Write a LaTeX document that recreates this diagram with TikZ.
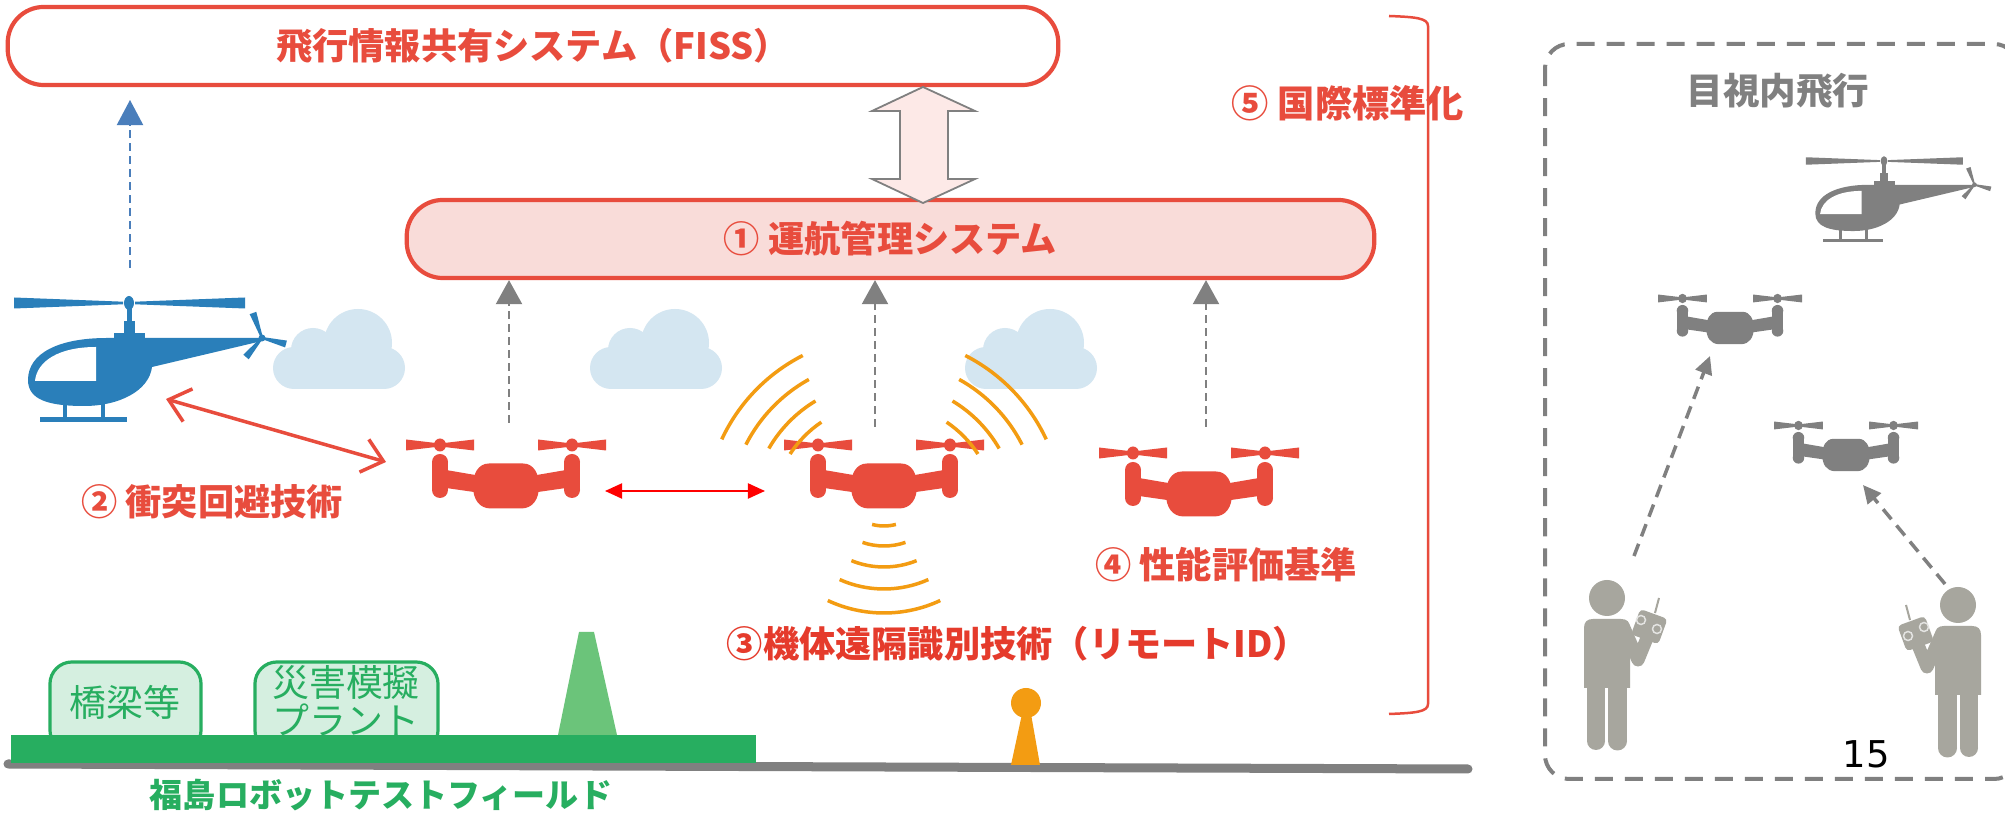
\documentclass[tikz,border=0pt]{standalone}
\usepackage{fontspec}
\newfontfamily\jp{Noto Sans CJK JP}
\newfontfamily\dv{DejaVu Sans}
\usetikzlibrary{arrows.meta,calc}
\definecolor{boxred}{HTML}{E84C3D}
\definecolor{idred}{HTML}{E53B2C}
\definecolor{pinkfill}{HTML}{F9DCD9}
\definecolor{arrowpink}{HTML}{FDE9E7}
\definecolor{heliblue}{HTML}{2A7FBA}
\definecolor{dashblue}{HTML}{4A7EBB}
\definecolor{cloudblue}{HTML}{D4E6F1}
\definecolor{signal}{HTML}{F39C12}
\definecolor{midgray}{HTML}{808080}
\definecolor{fieldgreen}{HTML}{27AE60}
\definecolor{lightgreen}{HTML}{D5EFE0}
\definecolor{towergreen}{HTML}{6BC47A}
\definecolor{persongray}{HTML}{A7A69E}
\definecolor{purered}{HTML}{FF0000}

\begin{document}
\begin{tikzpicture}[x=0.01cm, y=-0.01cm,
  sysbox/.style={draw=boxred, line width=0.042cm, rounded corners=0.36cm, inner sep=0,
    text=boxred, font=\jp\bfseries\fontsize{10.3}{12}\selectfont},
  redlabel/.style={inner sep=0, text=boxred, font=\jp\bfseries\fontsize{10.3}{12}\selectfont},
  uplink/.style={draw=midgray, line width=0.02cm, dash pattern=on 0.08cm off 0.05cm,
    -{Triangle[length=0.24cm,width=0.26cm]}},
  sight/.style={draw=midgray, line width=0.035cm, dash pattern=on 0.13cm off 0.08cm,
    -{Triangle[length=0.18cm,width=0.17cm]}},
  sig/.style={draw=signal, line width=0.035cm},
  facility/.style={draw=fieldgreen, fill=lightgreen, line width=0.032cm, rounded corners=0.22cm,
    minimum height=0.9cm, inner sep=0},
  greentext/.style={text=fieldgreen, inner sep=0, font=\jp\fontsize{10.5}{10.8}\selectfont, align=center},
  % quadcopter icon, origin at the centre of the body
  pics/drone/.style={code={
    \foreach \s in {-1,1}{
      \fill[#1] ({\s*66-34},-46.5) -- ({\s*66},-42.5) -- ({\s*66+34},-46.5) -- ({\s*66+34},-35.5)
                -- ({\s*66},-39.5) -- ({\s*66-34},-35.5) -- cycle;
      \fill[#1] ({\s*66},-41) ellipse[x radius=6, y radius=6.5];
      \fill[#1] ({\s*66-8},-24) rectangle ({\s*66+8},4);
      \fill[#1] ({\s*66},-24) circle[radius=8];
      \fill[#1] ({\s*66},4) circle[radius=8];
      \fill[#1] ({\s*60},-16) -- ({\s*25},-10) -- ({\s*25},7) -- ({\s*60},2) -- cycle;
    }
    \fill[#1] (-17,-22.5) -- (17,-22.5) .. controls (28,-22.5) and (33,-12) .. (33,0)
      .. controls (33,13) and (27,22.5) .. (15,22.5) -- (-15,22.5)
      .. controls (-27,22.5) and (-33,13) .. (-33,0) .. controls (-33,-12) and (-28,-22.5) .. (-17,-22.5) -- cycle;
  }},
  % helicopter icon, origin at the main rotor hub
  pics/heli/.style={code={
    \fill[#1] (-115,-5.5) -- (-6,-1.3) -- (-6,1.3) -- (-115,5.5) -- cycle;
    \fill[#1] (116,-5.5) -- (6,-1.3) -- (6,1.3) -- (116,5.5) -- cycle;
    \fill[#1] (0,0) ellipse[x radius=5, y radius=7];
    \fill[#1] (-2.5,0) rectangle (2.5,20);
    \fill[#1] (-5.5,18) rectangle (5.5,31);
    \fill[#1] (-15,30) rectangle (16,37);
    \fill[#1] (23,64) -- (133,38) -- (133,35) -- (-22,35) .. controls (-70,35) and (-101,50) .. (-101,77)
      .. controls (-101,97) and (-80,103) .. (-45,103) .. controls (-10,103) and (20,88) .. (23,64) -- cycle;
    \fill[white] (-33,44) -- (-33,78) -- (-94,78) .. controls (-92,58) and (-70,44) .. (-33,44) -- cycle;
    \fill[#1] (-66,98) rectangle (-62,116);
    \fill[#1] (-28,98) rectangle (-24,116);
    \fill[#1] (-89,114) rectangle (-2,119);
    \fill[#1] (133.9,34.7) -- (127.3,8.8) -- (120.7,11.2) -- (132.1,35.3) -- cycle;
    \fill[#1] (133.8,35.6) -- (119.7,56.3) -- (114.3,51.7) -- (132.2,34.4) -- cycle;
    \fill[#1] (132.8,36) -- (156.1,44.4) -- (157.9,37.6) -- (133.2,34) -- cycle;
    \fill[#1] (133,35) circle[radius=3.5];
  }},
  % cloud, origin at its upper left corner
  pics/cloud/.style={code={
    \fill[cloudblue] (85,34) circle[radius=34];
    \fill[cloudblue] (40,41) circle[radius=22];
    \fill[cloudblue] (21,59) circle[radius=21];
    \fill[cloudblue] (111,59) circle[radius=21];
    \fill[cloudblue] (21,45) rectangle (111,80);
  }},
  % pilot holding a transmitter, origin at the centre of the head
  pics/pilot/.style={code={
    \fill[persongray] (0,0) circle[radius=18];
    \fill[persongray] (-23,90) -- (-23,30) .. controls (-23,24) and (-20,21) .. (-14,21) -- (14,21)
      .. controls (20,21) and (23,24) .. (23,30) -- (23,90) -- cycle;
    \fill[persongray] (-20,86) rectangle (-2,143);
    \fill[persongray] (-11,143) circle[radius=9];
    \fill[persongray] (1,86) rectangle (20,143);
    \fill[persongray] (10.5,143) circle[radius=9.5];
    \draw[persongray, line width=0.13cm, line cap=round, line join=round] (17,30) -- (31,62) -- (40,40);
    \fill[persongray, rotate around={-20:(42,28)}, rounded corners=0.04cm] (28,15) rectangle (57,42);
    \draw[white!70!persongray, line width=0.015cm] (34,22) circle[radius=4.5];
    \draw[white!70!persongray, line width=0.015cm] (50,31) circle[radius=4.5];
    \draw[persongray, line width=0.02cm] (48,15) -- (52,0);
  }},
]
\useasboundingbox (0,0) rectangle (2005,813);
\fill[white] (0,0) rectangle (2005,813);

% sky
\pic at (273,309) {cloud};
\pic at (590,309) {cloud};
\pic at (965,309) {cloud};

% systems
\node[sysbox, fill=white, minimum width=10.50cm, minimum height=0.78cm] (fiss) at (533,46)
  {飛行情報共有システム（FISS）};
\node[sysbox, fill=pinkfill, minimum width=9.67cm, minimum height=0.78cm] (ops) at (890.5,239)
  {① 運航管理システム};
\draw[midgray, line width=0.018cm, fill=arrowpink]
  (923,87) -- (975,111) -- (948,111) -- (948,179) -- (975,179) -- (923,203)
  -- (872,179) -- (900,179) -- (900,111) -- (872,111) -- cycle;

% standardisation bracket
\draw[boxred, line width=0.025cm] (1389,16) .. controls (1415,17) and (1428,18) .. (1428,26)
  -- (1428,704) .. controls (1428,712) and (1415,713) .. (1389,714);
\node[redlabel, font=\jp\bfseries\fontsize{10.6}{12}\selectfont] (std) at (1348,103) {⑤ 国際標準化};

% aircraft
\pic at (129,303) {heli=heliblue};
\pic at (506,486) {drone=boxred};
\pic at (884,486) {drone=boxred};
\pic at (1199,494) {drone=boxred};

% remote ID broadcast
\foreach \r/\a/\b in {112/124/147,133/121/150,155/119/153,179/117/155}{
  \draw[sig] ([shift={(-\b:\r)}]884,515) arc[start angle=-\b, end angle=-\a, radius=\r];
  \draw[sig] ([shift={({\a-180}:\r)}]884,515) arc[start angle={\a-180}, end angle={\b-180}, radius=\r];
}
\foreach \r/\h in {46/15,66/19,87/22,109/24,133/25}{
  \draw[sig] ([shift={({90-\h}:\r)}]884,480) arc[start angle={90-\h}, end angle={90+\h}, radius=\r];
}

% links
\coordinate (heliup) at (130,268);
\coordinate (helitarget) at (130,100);
\draw[draw=dashblue, line width=0.02cm, dash pattern=on 0.08cm off 0.05cm,
  -{Triangle[length=0.25cm,width=0.26cm]}] (heliup) -- (helitarget);
\coordinate (d1up) at (509,423);
\coordinate (d2up) at (875,427);
\coordinate (d3up) at (1206,427);
\draw[uplink] (d1up) -- (d1up |- ops.south);
\draw[uplink] (d2up) -- (d2up |- ops.south);
\draw[uplink] (d3up) -- (d3up |- ops.south);
\coordinate (heliside) at (166,399);
\coordinate (d1side) at (386,462);
\draw[boxred, line width=0.035cm,
  {Straight Barb[length=0.2cm,width=0.34cm]}-{Straight Barb[length=0.2cm,width=0.34cm]}] (heliside) -- (d1side);
\coordinate (d1right) at (605,491);
\coordinate (d2left) at (765,491);
\draw[purered, line width=0.02cm,
  {Triangle[length=0.17cm,width=0.15cm]}-{Triangle[length=0.17cm,width=0.15cm]}] (d1right) -- (d2left);

% labels
\node[redlabel] (avoid) at (212,502) {② 衝突回避技術};
\node[redlabel] (perf) at (1226,565) {④ 性能評価基準};
\node[redlabel, text=idred] (rid) at (1018,644) {③機体遠隔識別技術（リモートID）};

% test field
\node[facility, minimum width=1.51cm] (bridge) at (125.5,707) {};
\node[facility, minimum width=1.83cm] (plant) at (346.5,707) {};
\node[greentext] (bridgetext) at (125,702) {橋梁等};
\node[greentext] (planttext) at (346,701) {災害模擬\\プラント};
\draw[midgray, line width=0.09cm, line cap=round] (8,764) -- (1468,769);
\fill[fieldgreen] (11,735) rectangle (756,763);
\fill[towergreen] (558,735) -- (579,632) -- (594,632) -- (617,735) -- cycle;
\fill[signal] (1026,703) circle[radius=15];
\fill[signal] (1022,714) -- (1031,714) -- (1040,765) -- (1011,765) -- cycle;
\node[inner sep=0, text=fieldgreen, font=\jp\bfseries\fontsize{9.4}{12}\selectfont] (field) at (381,795)
  {福島ロボットテストフィールド};

% visual line of sight panel
\draw[midgray, line width=0.04cm, dash pattern=on 0.18cm off 0.12cm, rounded corners=0.24cm]
  (1545,44) rectangle (2018,779);
\node[inner sep=0, text=midgray, font=\jp\bfseries\fontsize{10.4}{12}\selectfont] (vlos) at (1778,91) {目視内飛行};
\pic[scale=0.68] at (1884,161) {heli=midgray};
\pic[scale=0.72] at (1730,328) {drone=midgray};
\pic[scale=0.72] at (1846,455) {drone=midgray};
\pic at (1607,598) {pilot};
\pic[xscale=-1] at (1958,605) {pilot};
\coordinate (p1hand) at (1634,556);
\coordinate (g1) at (1710,356);
\coordinate (p2hand) at (1945,584);
\coordinate (g2) at (1863,485);
\draw[sight] (p1hand) -- (g1);
\draw[sight] (p2hand) -- (g2);
\node[inner sep=0, font=\dv\fontsize{10.5}{12}\selectfont] (page) at (1866,754) {15};
\end{tikzpicture}
\end{document}
